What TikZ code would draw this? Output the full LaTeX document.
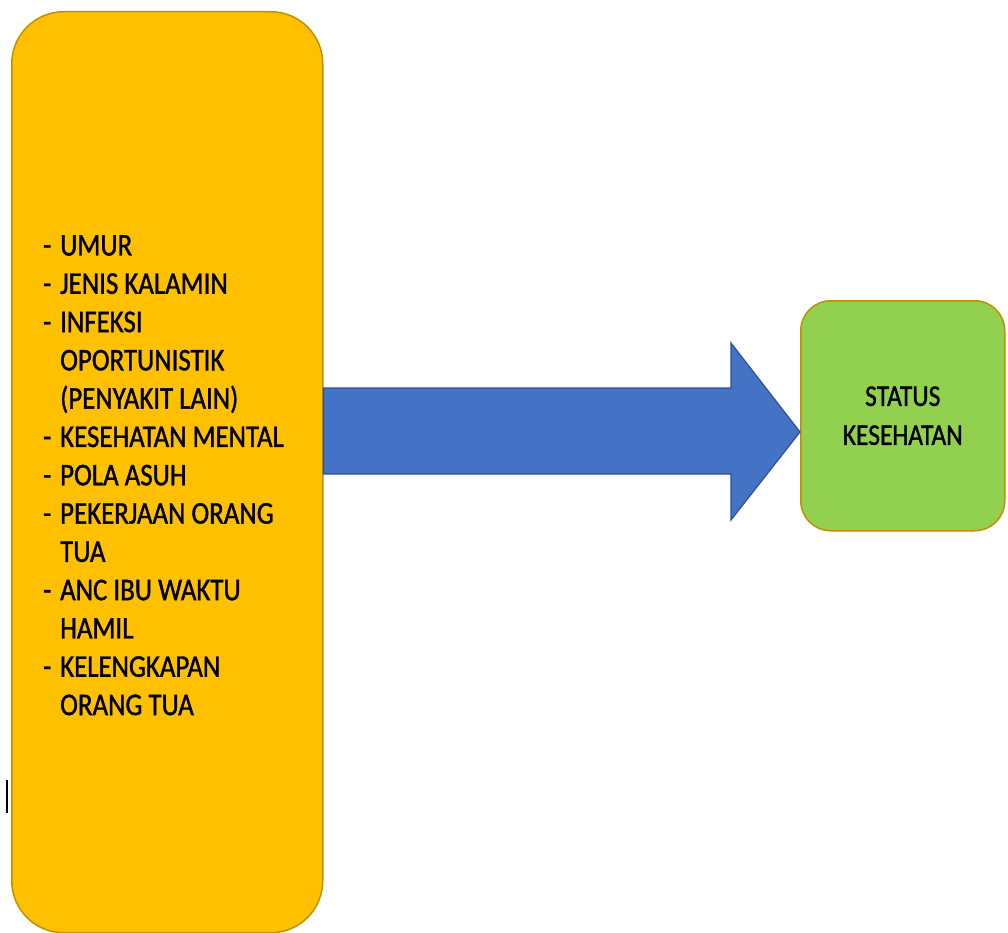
\documentclass[tikz,border=0pt]{standalone}
\usepackage{fontspec}
\setmainfont[FakeStretch=0.85,FakeBold=1.2]{Carlito}
\usetikzlibrary{positioning,calc}
\definecolor{mOrange}{HTML}{FFC000}
\definecolor{mGold}{HTML}{BF9000}
\definecolor{mBlue}{HTML}{4472C4}
\definecolor{mBlueLine}{HTML}{2F528F}
\definecolor{mGreen}{HTML}{92D050}
\newcommand{\listdash}{\makebox[17pt][l]{-}}
\newcommand{\listcont}{\hspace*{17pt}}
\tikzset{
  factorbox/.style={draw=mGold, fill=mOrange, line width=1.5pt, rounded corners=52pt, inner sep=0pt},
  statusbox/.style={draw=mGold, fill=mGreen, line width=1.5pt, rounded corners=30pt, inner sep=0pt,
    align=center, font=\fontsize{30}{39}\selectfont},
  listtext/.style={align=left, inner sep=0pt, font=\fontsize{31.6}{38.3}\selectfont},
  bigarrow/.style={draw=mBlueLine, fill=mBlue, line width=1.2pt, line join=miter}
}

\begin{document}
\begin{tikzpicture}[x=1pt,y=-1pt]
    \useasboundingbox (0,0) rectangle (1008,933);
    % Factors
    \node[factorbox, anchor=north west, minimum width=311pt, minimum height=921pt] (factors) at (11,11) {};
    \node[listtext, anchor=north west] (items) at (43,235) {%
      \listdash UMUR\\
      \listdash JENIS KALAMIN\\
      \listdash INFEKSI\\
      \listcont OPORTUNISTIK\\
      \listcont (PENYAKIT LAIN)\\
      \listdash KESEHATAN MENTAL\\
      \listdash POLA ASUH\\
      \listdash PEKERJAAN ORANG\\
      \listcont TUA\\
      \listdash ANC IBU WAKTU\\
      \listcont HAMIL\\
      \listdash KELENGKAPAN\\
      \listcont ORANG TUA};
    % Outcome
    \node[statusbox, anchor=north west, minimum width=204pt, minimum height=230pt] (status) at (800,300) {STATUS\\KESEHATAN};
    % Arrow
    \coordinate (tip) at (status.west |- 0,432);
    \draw[bigarrow] (factors.east |- 0,388) -- (731,388) -- (731,343) -- (tip)
      -- (731,520) -- (731,474) -- (factors.east |- 0,474) -- cycle;
    % Cursor
    \draw[line width=1.2pt] (7,780) -- (7,813);
\end{tikzpicture}
\end{document}
